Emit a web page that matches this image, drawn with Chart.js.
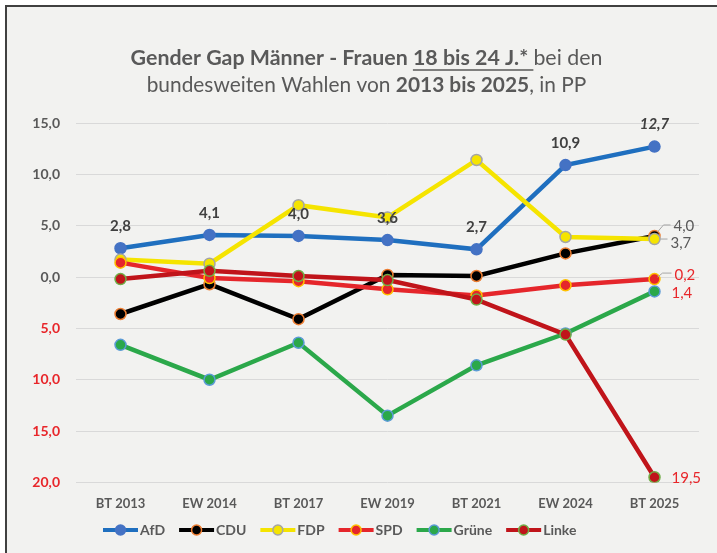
<!DOCTYPE html>
<html>
<head>
<meta charset="utf-8">
<script src="https://cdn.jsdelivr.net/npm/chart.js@4"></script>
<style>
html, body { margin: 0; padding: 0; background: #fff; }
canvas { display: block; }
</style>
</head>
<body>
<canvas id="chart" width="717" height="553"></canvas>
<script>
// Wahlen
const labels = ['BT 2013', 'EW 2014', 'BT 2017', 'EW 2019', 'BT 2021', 'EW 2024', 'BT 2025'];

// Gender Gap Männer - Frauen (18-24 J.), in Prozentpunkten
const afd    = [2.8, 4.1, 4.0, 3.6, 2.7, 10.9, 12.7];
const cdu    = [-3.6, -0.7, -4.1, 0.2, 0.1, 2.3, 4.0];
const fdp    = [1.7, 1.3, 7.0, 5.8, 11.4, 3.9, 3.7];
const spd    = [1.4, -0.1, -0.4, -1.2, -1.8, -0.8, -0.2];
const gruene = [-6.6, -10.0, -6.4, -13.5, -8.6, -5.5, -1.4];
const linke  = [-0.2, 0.6, 0.1, -0.3, -2.2, -5.6, -19.5];

const yTicks = [15, 10, 5, 0, -5, -10, -15, -20];

const FONT = 'Lato';
const GREY = '#595959';
const RED = '#e8262a';

const fmt = v => Math.abs(v).toFixed(1).replace('.', ',');

function series(label, data, line, fill, border, order) {
    return {
        label: label,
        data: data,
        borderColor: line,
        backgroundColor: fill,
        pointBackgroundColor: fill,
        pointBorderColor: border,
        pointBorderWidth: 1.5,
        pointRadius: 5.5,
        borderWidth: 4.5,
        tension: 0,
        order: order
    };
}

const bgPlugin = {
    id: 'bg',
    beforeDraw(chart) {
        const ctx = chart.ctx;
        ctx.save();
        ctx.fillStyle = '#fff';
        ctx.fillRect(0, 0, chart.width, chart.height);
        ctx.fillStyle = '#f2f2f0';
        ctx.fillRect(6, 6, chart.width - 6, chart.height - 6);
        ctx.strokeStyle = '#404040';
        ctx.lineWidth = 2;
        ctx.beginPath();
        ctx.moveTo(6, chart.height); ctx.lineTo(6, 6); ctx.lineTo(chart.width, 6);
        ctx.stroke();
        ctx.restore();
    }
};

const titlePlugin = {
    id: 'titleRuns',
    afterDraw(chart) {
        const ctx = chart.ctx;
        const lines = [
            { y: 58, width: 472, runs: [
                { t: 'Gender Gap Männer - Frauen ', b: true },
                { t: '18 bis 24 J.* ', b: true, u: true },
                { t: 'bei den', b: false }
            ]},
            { y: 85, width: 440, runs: [
                { t: 'bundesweiten Wahlen von ', b: false },
                { t: '2013 bis 2025', b: true },
                { t: ', in PP', b: false }
            ]}
        ];
        ctx.save();
        ctx.fillStyle = GREY;
        ctx.strokeStyle = GREY;
        ctx.textBaseline = 'middle';
        ctx.textAlign = 'left';
        lines.forEach(line => {
            const size = 20;
            let w = 0;
            line.runs.forEach(r => {
                ctx.font = (r.b ? 'bold ' : '') + size + 'px ' + FONT;
                w += ctx.measureText(r.t).width;
            });
            const s = size * line.width / w;
            let total = 0;
            line.runs.forEach(r => {
                ctx.font = (r.b ? 'bold ' : '') + s + 'px ' + FONT;
                r.w = ctx.measureText(r.t).width;
                total += r.w;
            });
            let x = chart.width / 2 + 8 - total / 2;
            line.runs.forEach(r => {
                ctx.font = (r.b ? 'bold ' : '') + s + 'px ' + FONT;
                ctx.fillText(r.t, x, line.y);
                if (r.u) {
                    ctx.lineWidth = 1.5;
                    ctx.beginPath();
                    ctx.moveTo(x, line.y + 12); ctx.lineTo(x + r.w, line.y + 12);
                    ctx.stroke();
                }
                x += r.w;
            });
        });
        ctx.restore();
    }
};

// legend: line with marker + bold name
const legendPlugin = {
    id: 'legendRow',
    afterDraw(chart) {
        const ctx = chart.ctx;
        const y = 530;
        let x = 103;
        ctx.save();
        ctx.textBaseline = 'middle';
        ctx.textAlign = 'left';
        ctx.font = 'bold 14px ' + FONT;
        chart.data.datasets.forEach(d => {
            ctx.strokeStyle = d.borderColor;
            ctx.lineWidth = 4;
            ctx.beginPath(); ctx.moveTo(x, y); ctx.lineTo(x + 35, y); ctx.stroke();
            ctx.beginPath(); ctx.arc(x + 17.5, y, 5, 0, Math.PI * 2);
            ctx.fillStyle = d.pointBackgroundColor; ctx.fill();
            ctx.lineWidth = 1.5; ctx.strokeStyle = d.pointBorderColor; ctx.stroke();
            ctx.fillStyle = GREY;
            ctx.fillText(d.label, x + 37, y);
            x += 37 + ctx.measureText(d.label).width + 14;
        });
        ctx.restore();
    }
};

const valuePlugin = {
    id: 'values',
    afterDatasetsDraw(chart) {
        const ctx = chart.ctx;
        ctx.save();
        ctx.textBaseline = 'middle';
        // AfD above points
        const afdMeta = chart.getDatasetMeta(0);
        ctx.textAlign = 'center';
        ctx.fillStyle = '#404040';
        afd.forEach((v, i) => {
            const p = afdMeta.data[i];
            const last = i === afd.length - 1;
            ctx.font = (last ? 'italic ' : '') + 'bold 15px ' + FONT;
            ctx.fillText(fmt(v), p.x, p.y - 22);
        });
        // end labels
        const n = labels.length - 1;
        const ends = [
            { ds: 1, arr: cdu, dx: 19, dy: -10, color: GREY, lead: [[3, -4], [9, -11], [16, -11]] },
            { ds: 2, arr: fdp, dx: 16, dy: 4, color: GREY, lead: [[5, 0], [13, 0]] },
            { ds: 3, arr: spd, dx: 20, dy: -4, color: RED, lead: [[3, -2], [8, -6], [17, -6]] },
            { ds: 4, arr: gruene, dx: 17, dy: 2, color: RED },
            { ds: 5, arr: linke, dx: 17, dy: 1, color: RED }
        ];
        ctx.textAlign = 'left';
        ctx.font = '15px ' + FONT;
        ends.forEach(e => {
            const p = chart.getDatasetMeta(e.ds).data[n];
            if (e.lead) {
                ctx.strokeStyle = '#a6a6a6';
                ctx.lineWidth = 1;
                ctx.beginPath();
                e.lead.forEach((q, k) => {
                    if (k === 0) ctx.moveTo(p.x + q[0], p.y + q[1]);
                    else ctx.lineTo(p.x + q[0], p.y + q[1]);
                });
                ctx.stroke();
            }
            ctx.fillStyle = e.color;
            ctx.fillText(fmt(e.arr[n]), p.x + e.dx, p.y + e.dy);
        });
        ctx.restore();
    }
};

new Chart(document.getElementById('chart'), {
    type: 'line',
    data: {
        labels: labels,
        datasets: [
            series('AfD', afd, '#1f6fbf', '#4472c4', '#4472c4', 6),
            series('CDU', cdu, '#000000', '#000000', '#ed7d31', 5),
            series('FDP', fdp, '#f5e400', '#f5e400', '#a5a5a5', 4),
            series('SPD', spd, '#e5262b', '#e5262b', '#ffc000', 3),
            series('Grüne', gruene, '#2ba84a', '#2ba84a', '#5b9bd5', 2),
            series('Linke', linke, '#c0141a', '#c0141a', '#70ad47', 1)
        ]
    },
    options: {
        responsive: false,
        animation: false,
        layout: { padding: { top: 123, left: 6, right: 18, bottom: 35 } },
        plugins: {
            title: { display: false },
            tooltip: { enabled: false },
            legend: { display: false }
        },
        scales: {
            x: {
                offset: true,
                grid: { display: false },
                border: { display: false },
                ticks: {
                    padding: 6,
                    color: GREY,
                    font: { family: FONT, size: 13, weight: 'bold' },
                    maxRotation: 0
                }
            },
            y: {
                min: yTicks[yTicks.length - 1],
                max: yTicks[0],
                afterFit(scale) { scale.width = 70; },
                afterBuildTicks(scale) { scale.ticks = yTicks.map(v => ({ value: v })); },
                grid: { color: '#d9d9d9', lineWidth: 1, drawTicks: false },
                border: { display: false },
                ticks: {
                    padding: 16,
                    callback: v => fmt(v),
                    color: c => c.tick.value < 0 ? RED : GREY,
                    font: { family: FONT, size: 14, weight: 'bold' }
                }
            }
        }
    },
    plugins: [bgPlugin, titlePlugin, valuePlugin, legendPlugin]
});
</script>
</body>
</html>
